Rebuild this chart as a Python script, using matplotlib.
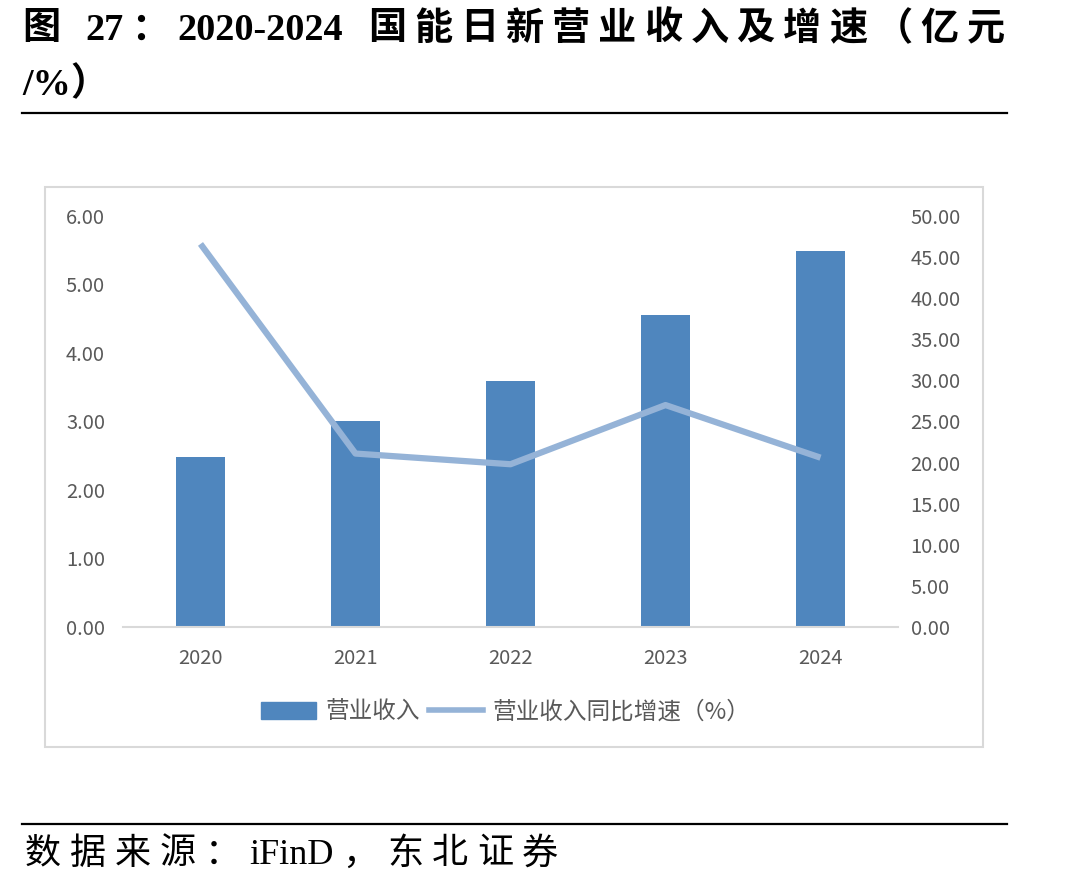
import numpy as np
import matplotlib.pyplot as plt
from matplotlib.patches import Rectangle
from matplotlib.lines import Line2D

plt.rcParams['font.family'] = ['Noto Sans CJK SC', 'DejaVu Sans']

years = ['2020', '2021', '2022', '2023', '2024']
revenue = [2.48, 3.01, 3.59, 4.56, 5.49]          # 亿元
growth = [46.6, 21.1, 19.8, 27.0, 20.6]           # %

bar_c = '#4f86be'
line_c = '#95b3d7'
tick_c = '#595959'

W, H = 1090, 889
fig = plt.figure(figsize=(W / 100, H / 100), dpi=100)
renderer = fig.canvas.get_renderer()


def spread_text(chunks, x0, x1, y, **kw):
    # one artist per chunk, gaps stretched so the line fills x0..x1
    arts = [fig.text(0, 1 - y / H, c, va='center', ha='left', **kw) for c in chunks]
    widths = []
    for a, c in zip(arts, chunks):
        w = a.get_window_extent(renderer).width
        if c == ' ':
            w = kw['fontsize'] * 0.25 * 100 / 72
        widths.append(w)
    gap = (x1 - x0 - sum(widths)) / (len(chunks) - 1)
    pos = x0
    for a, w in zip(arts, widths):
        a.set_x(pos / W)
        pos += w + gap


serif = ['Liberation Serif', 'Noto Sans CJK SC']
title1 = ['图', ' ', '27', '：', '2020-2024', ' '] + list('国能日新营业收入及增速（亿元')
spread_text(title1, 22, 1005, 30, fontsize=27.5, weight='bold', family=serif)
fig.text(22 / W, 1 - 85 / H, '/%）', fontsize=27.5, va='center', ha='left',
         weight='bold', family=serif)
fig.add_artist(Line2D([22 / W, 1007 / W], [1 - 113 / H] * 2, color='black', lw=1.6))
fig.add_artist(Line2D([22 / W, 1007 / W], [1 - 824 / H] * 2, color='black', lw=1.6))
source = list('数据来源：') + ['iFinD'] + list('，东北证券')
spread_text(source, 25, 558, 855, fontsize=26, family=serif)

# chart frame
fig.add_artist(Rectangle((45 / W, 1 - 747 / H), (983 - 45) / W, (747 - 187) / H,
                         transform=fig.transFigure, fill=False, ec='#d9d9d9', lw=1.5))

ax = fig.add_axes([123 / W, 1 - 627 / H, 775 / W, (627 - 216) / H])
x = np.arange(len(years))
ax.bar(x, revenue, width=0.32, color=bar_c, zorder=2)
ax.set_xlim(-0.5, 4.5)
ax.set_ylim(0, 6)
ax.set_yticks(np.arange(0, 7, 1))
ax.set_yticklabels([f'{v:.2f}' for v in np.arange(0, 7, 1)])
ax.set_xticks(x)
ax.set_xticklabels(years)
for s in ['top', 'left', 'right']:
    ax.spines[s].set_visible(False)
ax.spines['bottom'].set_color('#d9d9d9')
ax.spines['bottom'].set_linewidth(1.5)
ax.tick_params(axis='y', length=0, pad=13, labelsize=14.5, labelcolor=tick_c)
ax.tick_params(axis='x', length=0, pad=15, labelsize=14.5, labelcolor=tick_c)

ax2 = ax.twinx()
ax2.plot(x, growth, color=line_c, lw=4.5, solid_capstyle='butt', zorder=3)
ax2.set_ylim(0, 50)
ax2.set_yticks(np.arange(0, 55, 5))
ax2.set_yticklabels([f'{v:.2f}' for v in np.arange(0, 55, 5)])
for s in ['top', 'left', 'right', 'bottom']:
    ax2.spines[s].set_visible(False)
ax2.tick_params(axis='y', length=0, pad=9, labelsize=14.5, labelcolor=tick_c)

handles = [Rectangle((0, 0), 1, 1, color=bar_c),
           Line2D([0], [0], color=line_c, lw=4)]
fig.legend(handles, ['营业收入', '营业收入同比增速（%）'], loc='center',
           bbox_to_anchor=(506 / W, 1 - 712 / H), ncol=2, frameon=False,
           fontsize=17, labelcolor=tick_c, handlelength=2.3, handleheight=0.7,
           columnspacing=0.4, handletextpad=0.4)

fig.savefig('out.png', dpi=100)
